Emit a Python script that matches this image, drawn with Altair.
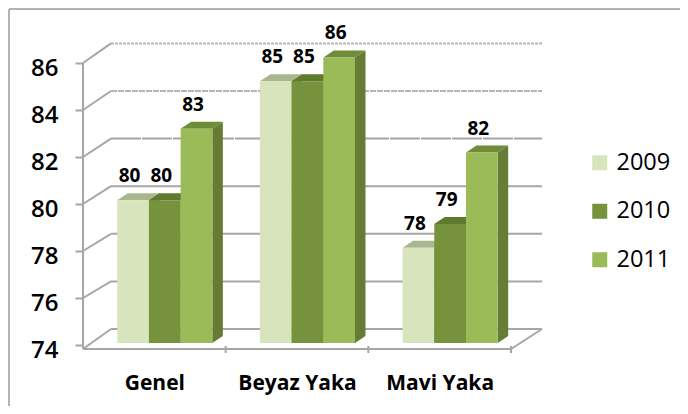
import altair as alt
import pandas as pd

categories = ["Genel", "Beyaz Yaka", "Mavi Yaka"]
years = ["2009", "2010", "2011"]
values_2009 = [80, 85, 78]
values_2010 = [80, 85, 79]
values_2011 = [83, 86, 82]
tick_values = [74, 76, 78, 80, 82, 84, 86]
front_colors = ["#d7e4bc", "#76923c", "#9bbb59"]
top_colors = ["#a9b78f", "#5f7a2c", "#6f8c38"]
side_color = "#667b35"
grid_color = "#a6a6a6"
FONT = "Open Sans"

# view geometry (page pixels)
W, H = 672, 398
PX_X0, PX_PER_CAT = 83.0, 142.67
PX_Y0, PX_PER_VAL = 345.0, 23.5


def ux(px):
    return (px - PX_X0) / PX_PER_CAT


def uy(px):
    return 74 + (PX_Y0 - px) / PX_PER_VAL


xs = alt.Scale(domain=[ux(8), ux(8 + W)], nice=False, zero=False)
ys = alt.Scale(domain=[uy(8 + H), uy(8)], nice=False, zero=False)
X = alt.X("x:Q", scale=xs, title=None, axis=None)
Y = alt.Y("y:Q", scale=ys, title=None, axis=None, stack=None)

BAR_BASE = 343.0
BAR_K = 23.8
BAR_W = 31.7 / PX_PER_CAT
BAR_L = 0.24
DEPTH_X = 10.5 / PX_PER_CAT
DEPTH_Y = 7.0


def bar_top_px(v):
    return BAR_BASE - BAR_K * (v - 74)


series = [values_2009, values_2010, values_2011]
front, labels, tops, sides = [], [], [[], [], []], []
for s, (yr, vals) in enumerate(zip(years, series)):
    for c, v in enumerate(vals):
        l = c + BAR_L + s * BAR_W
        r = l + BAR_W
        tp = bar_top_px(v)
        key = f"{c}-{s}"
        front.append(dict(x=l, x2=r, y=uy(BAR_BASE), y2=uy(tp), year=yr))
        labels.append(dict(x=(l + r) / 2 + ux(79.5), y=uy(tp - 24), value=v))
        for xv, a, b in [(l, tp, tp), (l + DEPTH_X, tp - DEPTH_Y, tp),
                         (r, tp - DEPTH_Y, tp), (r + DEPTH_X, tp - DEPTH_Y, tp - DEPTH_Y)]:
            tops[s].append(dict(x=xv, y=uy(a), y2=uy(b), key=key))
        sides.append(dict(x=r, y=uy(tp), y2=uy(BAR_BASE), key=key))
        sides.append(dict(x=r + DEPTH_X, y=uy(tp - DEPTH_Y), y2=uy(BAR_BASE - DEPTH_Y), key=key))

layers = []


def rule(rows, color=grid_color, width=2, dash=None):
    kw = dict(color=color, strokeWidth=width)
    if dash:
        kw["strokeDash"] = dash
    return alt.Chart(pd.DataFrame(rows)).mark_rule(**kw).encode(
        x=X, x2="x2:Q", y=Y, y2="y2:Q"
    )


axis_layer = alt.Chart(pd.DataFrame({"x": [0.0], "y": [74.0]})).mark_point(opacity=0).encode(
    x=alt.X(
        "x:Q", scale=xs, title=None,
        axis=alt.Axis(
            values=[0.5, 1.5, 2.5], orient="bottom", offset=-57, domain=False, ticks=False,
            grid=False, labelPadding=23, labelFont=FONT, labelFontSize=21, labelFontWeight="bold",
            labelColor="#000000", labelExpr="%s[floor(datum.value)]" % str(categories),
        ),
    ),
    y=alt.Y(
        "y:Q", scale=ys, title=None,
        axis=alt.Axis(
            values=tick_values, orient="left", offset=-75, domain=False, grid=False,
            tickSize=8, tickWidth=2, tickColor=grid_color, labelPadding=17, labelFont=FONT,
            labelFontSize=24, labelFontWeight=600, labelColor="#000000", labelOffset=5,
        ),
    ),
)
layers.append(axis_layer)

# wall gridlines and depth lines
BACK_X0, BACK_X1 = 111.0, 542.0
dashes = {86: [3, 1], 84: [6, 1], 82: [30, 1]}
for v in tick_values:
    back = 329 - BAR_K * (v - 74)
    start = 349 if v == 74 else PX_Y0 - PX_PER_VAL * (v - 74)
    layers.append(rule([dict(x=ux(PX_X0), x2=ux(BACK_X0), y=uy(start), y2=uy(back))]))
    color = "#b5b5b5" if v in (86, 84) else grid_color
    layers.append(rule([dict(x=ux(BACK_X0), x2=ux(BACK_X1), y=uy(back), y2=uy(back))],
                       color=color, dash=dashes.get(v)))

# axis lines, floor, category ticks
layers.append(rule([dict(x=0.0, x2=0.0, y=uy(63), y2=uy(349))]))
layers.append(rule([dict(x=0.0, x2=ux(511), y=uy(349), y2=uy(349))]))
layers.append(rule([dict(x=ux(511), x2=ux(BACK_X1), y=uy(349), y2=uy(329))]))
layers.append(rule([dict(x=float(i), x2=float(i), y=uy(346), y2=uy(353)) for i in range(1, 4)]))

# chart frame (top and left edges)
layers.append(rule([dict(x=ux(9), x2=ux(8 + W), y=uy(9), y2=uy(9)),
                    dict(x=ux(9), x2=ux(9), y=uy(9), y2=uy(8 + H))], color="#b3b3b3"))

# 3-D bars
layers.append(alt.Chart(pd.DataFrame(sides)).mark_area(color=side_color).encode(
    x=X, y=Y, y2="y2:Q", detail="key:N"))
for s in range(3):
    layers.append(alt.Chart(pd.DataFrame(tops[s])).mark_area(color=top_colors[s]).encode(
        x=X, y=Y, y2="y2:Q", detail="key:N"))
layers.append(alt.Chart(pd.DataFrame(front)).mark_bar().encode(
    x=X, x2="x2:Q", y=Y, y2="y2:Q",
    color=alt.Color(
        "year:N", scale=alt.Scale(domain=years, range=front_colors),
        legend=alt.Legend(
            title=None, orient="none", legendX=580, legendY=143, symbolType="square",
            symbolSize=225, symbolStrokeWidth=0, labelFont=FONT, labelFontSize=23.5,
            labelColor="#000000", rowPadding=23.5, labelOffset=5,
        ),
    ),
))

# value labels
layers.append(alt.Chart(pd.DataFrame(labels)).mark_text(
    font=FONT, fontSize=19, fontWeight="bold", color="#000000", baseline="middle", align="center"
).encode(x=X, y=Y, text="value:Q"))

chart = (
    alt.layer(*layers)
    .resolve_axis(x="independent", y="independent")
    .properties(width=W, height=H, padding=0, background="#ffffff",
                autosize=alt.AutoSizeParams(type="none"))
    .configure_view(stroke=None)
)
chart.save("out.html", embed_options={"renderer": "svg", "actions": False})
